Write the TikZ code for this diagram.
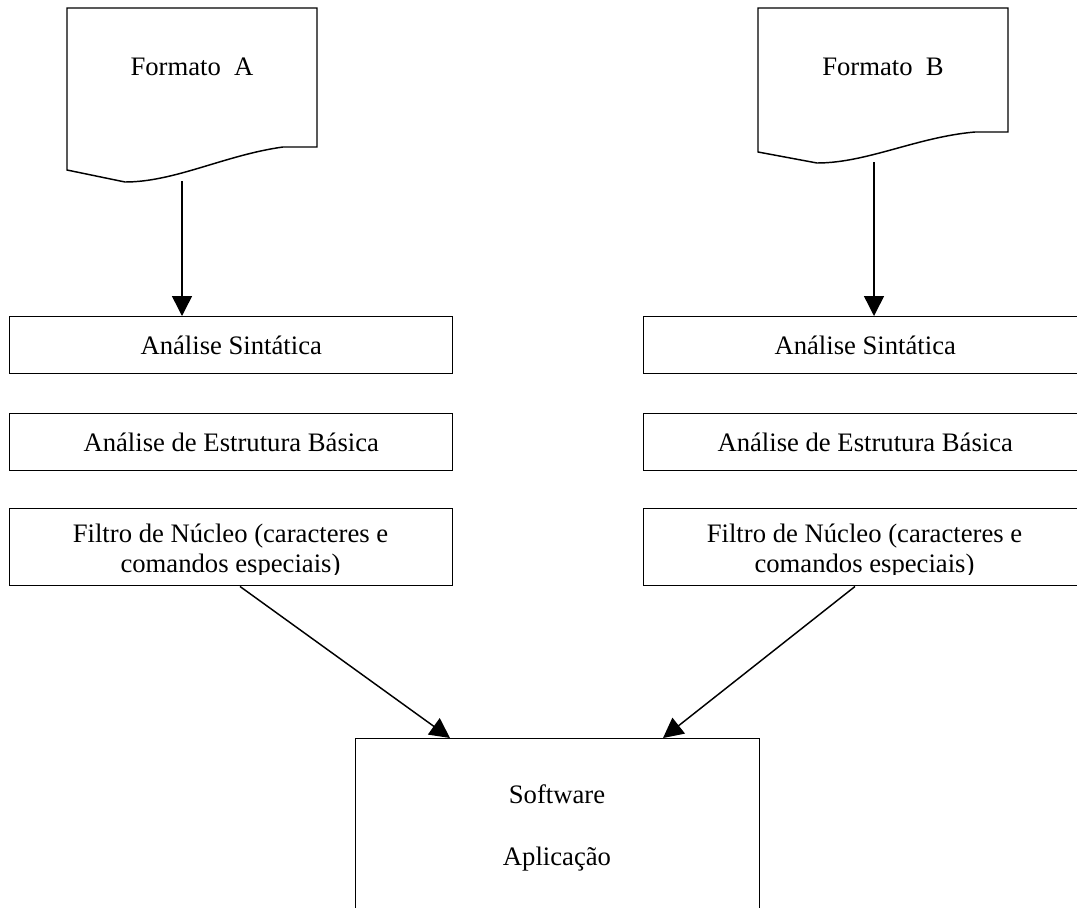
\documentclass[tikz,border=0pt]{standalone}
\usepackage{fontspec}
\setmainfont{Liberation Serif}
\usetikzlibrary{arrows.meta,calc}
\begin{document}
\begin{tikzpicture}[x=0.75pt,y=-0.75pt,
  every node/.style={font=\fontsize{20}{22}\selectfont},
  box/.style={draw,line width=1.1pt,minimum width=332.25pt,inner sep=0pt,anchor=north west},
  doc/.style={draw,line width=1.1pt},
  txt/.style={anchor=base,inner sep=0pt},
  arr/.style={-{Triangle[length=15pt,width=15pt]},line width=1.1pt}]
\useasboundingbox (0,0) rectangle (1077,907);
% documents
\draw[doc] (67,8) -- (317,8) -- (317,147) -- (283,147) .. controls (225,155) and (175,182) .. (125,182) -- (67,170) -- cycle;
\node[txt] (fmtA) at (192,75) {Formato~~A};
\coordinate (dA) at (182,181);
\draw[doc] (758,8) -- (1008,8) -- (1008,132) -- (975,132) .. controls (917,137) and (867,163) .. (817,163) -- (758,152) -- cycle;
\node[txt] (fmtB) at (883,75) {Formato~~B};
\coordinate (dB) at (874,162);
% left column
\node[box,minimum height=42.75pt] (sinA) at (9,316) {Análise Sintática};
\node[box,minimum height=42.75pt] (estA) at (9,413) {Análise de Estrutura Básica};
\begin{scope}
\clip (9,508) rectangle (452,574);
\node[txt,align=center] (filAt) at (230.5,572) {Filtro de Núcleo (caracteres e\\comandos especiais)};
\end{scope}
\node[box,minimum height=57.75pt] (filA) at (9,508) {};
% right column
\node[box,minimum height=42.75pt] (sinB) at (643,316) {Análise Sintática};
\node[box,minimum height=42.75pt] (estB) at (643,413) {Análise de Estrutura Básica};
\begin{scope}
\clip (643,508) rectangle (1086,574);
\node[txt,align=center] (filBt) at (864.5,572) {Filtro de Núcleo (caracteres e\\comandos especiais)};
\end{scope}
\node[box,minimum height=57.75pt] (filB) at (643,508) {};
% bottom
\node[box,minimum width=303pt,minimum height=150pt] (soft) at (355,738) {};
\node[txt] (softa) at (557,803) {Software};
\node[txt] (softb) at (557,865) {Aplicação};
% connectors
\draw[arr] (dA) -- (dA |- sinA.north);
\draw[arr] (dB) -- (dB |- sinB.north);
\draw[arr] ($(filA.south west)+(231,0)$) -- ($(soft.north west)+(95,0)$);
\draw[arr] ($(filB.south west)+(212,0)$) -- ($(soft.north west)+(308,0)$);
\end{tikzpicture}
\end{document}
